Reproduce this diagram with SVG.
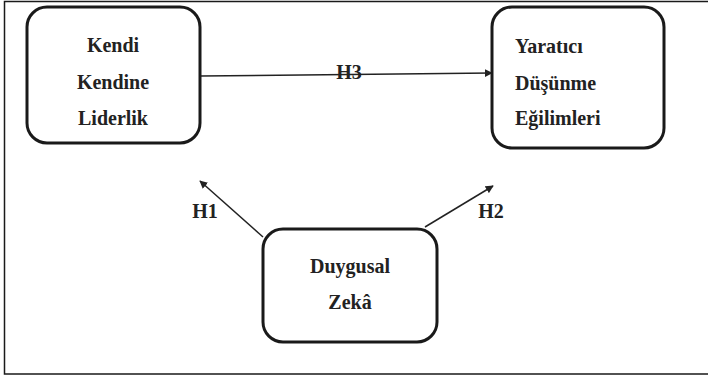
<svg xmlns="http://www.w3.org/2000/svg" width="708" height="376" viewBox="0 0 708 376">
<defs>
<style>
.box{fill:#fff;stroke:#1a1a1a;stroke-width:3}
text{font-weight:bold;font-size:20px;fill:#222}
.e{stroke:#222;stroke-width:1.5;fill:none}
</style>
<marker id="ah" viewBox="0 0 10 10" refX="9" refY="5" markerWidth="8" markerHeight="8" markerUnits="userSpaceOnUse" orient="auto"><path d="M0,0 L10,5 L0,10 z" fill="#222"/></marker>
</defs>
<rect width="708" height="376" fill="#fff"/>
<path d="M708,1.5 H4.5 V374 H708" fill="none" stroke="#1a1a1a" stroke-width="1.5"/>
<g font-family="'Liberation Serif', 'Times New Roman', serif">
<g id="edges">
<line class="e" x1="200" y1="76" x2="492" y2="73" marker-end="url(#ah)"/>
<line class="e" x1="263" y1="237" x2="200" y2="181" marker-end="url(#ah)"/>
<line class="e" x1="425" y1="227" x2="493" y2="186" marker-end="url(#ah)"/>
<text x="349" y="79" text-anchor="middle">H3</text>
<text x="205" y="218" text-anchor="middle">H1</text>
<text x="491" y="218" text-anchor="middle">H2</text>
</g>
<g id="kendi">
<rect class="box" x="27" y="7" width="173" height="136" rx="20"/>
<text x="113" y="52" text-anchor="middle">Kendi</text>
<text x="113" y="89" text-anchor="middle">Kendine</text>
<text x="113" y="125" text-anchor="middle">Liderlik</text>
</g>
<g id="yaratici">
<rect class="box" x="492" y="7" width="172" height="141" rx="20"/>
<text x="515" y="53">Yaratıcı</text>
<text x="515" y="90">Düşünme</text>
<text x="515" y="125">Eğilimleri</text>
</g>
<g id="duygusal">
<rect class="box" x="263" y="229" width="174" height="113" rx="20"/>
<text x="350" y="273" text-anchor="middle">Duygusal</text>
<text x="350" y="309" text-anchor="middle">Zekâ</text>
</g>
</g>
</svg>
